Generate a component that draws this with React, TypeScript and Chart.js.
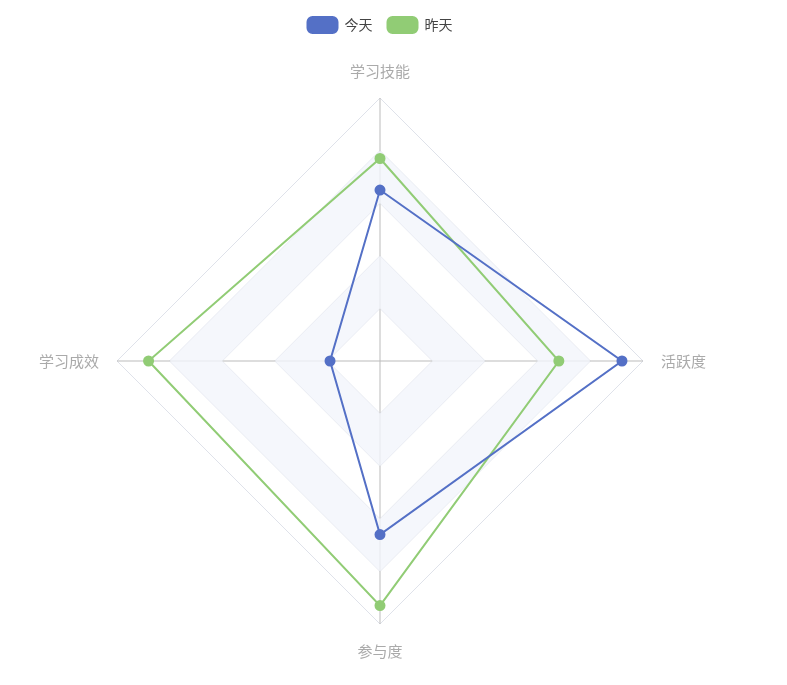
import React, { useEffect, useRef } from "react";
import { Chart, registerables } from "chart.js";

Chart.register(...registerables);

const labels = ["学习技能", "活跃度", "参与度", "学习成效"];
const todayValues = [65, 92, 66, 19];
const yesterdayValues = [77, 68, 93, 88];
const seriesNames = ["今天", "昨天"];
const ringValues = [0, 20, 40, 60, 80, 100];

const splitAreaPlugin = {
  id: "splitArea",
  beforeDatasetsDraw(chart: any) {
    const scale = chart.scales.r;
    if (!scale) return;
    const ctx = chart.ctx;
    const n = chart.data.labels.length;
    const poly = (v: number) => {
      for (let i = 0; i < n; i++) {
        const p = scale.getPointPositionForValue(i, v);
        if (i === 0) ctx.moveTo(p.x, p.y);
        else ctx.lineTo(p.x, p.y);
      }
      ctx.closePath();
    };
    ctx.save();
    for (let k = 1; k < ringValues.length - 1; k += 2) {
      ctx.beginPath();
      poly(ringValues[k + 1]);
      poly(ringValues[k]);
      ctx.fillStyle = "rgba(243,245,251,0.8)";
      ctx.fill("evenodd");
    }
    ctx.restore();
  },
};

const legendSpacing = {
  id: "legendSpacing",
  beforeInit(chart: any) {
    const orig = chart.legend.fit;
    chart.legend.fit = function () {
      orig.bind(chart.legend)();
      this.height += 19;
    };
  },
};

export default function App() {
  const ref = useRef<HTMLCanvasElement | null>(null);
  useEffect(() => {
    if (!ref.current) return;
    const chart = new Chart(ref.current, {
      type: "radar",
      data: {
        labels,
        datasets: [
          {
            label: seriesNames[0],
            data: todayValues,
            borderColor: "#5470c6",
            backgroundColor: "#5470c6",
            pointBackgroundColor: "#5470c6",
            pointBorderColor: "#5470c6",
            pointRadius: 4.5,
            borderWidth: 2,
            fill: false,
          },
          {
            label: seriesNames[1],
            data: yesterdayValues,
            borderColor: "#91cc75",
            backgroundColor: "#91cc75",
            pointBackgroundColor: "#91cc75",
            pointBorderColor: "#91cc75",
            pointRadius: 4.5,
            borderWidth: 2,
            fill: false,
          },
        ],
      },
      options: {
        animation: false,
        responsive: false,
        layout: { padding: { left: 0, right: 27, top: 2, bottom: 25 } },
        plugins: {
          legend: {
            position: "top",
            labels: {
              boxWidth: 30,
              boxHeight: 16,
              useBorderRadius: true,
              borderRadius: 5,
              color: "#444",
              font: { size: 14, family: "'Noto Sans CJK SC', sans-serif" },
              padding: 15,
            },
          },
          tooltip: { enabled: false },
        },
        scales: {
          r: {
            min: 0,
            max: 100,
            ticks: { display: false, stepSize: 20 },
            grid: { color: "#dfe2ea", lineWidth: 1 },
            angleLines: { color: "#bbbbbb", lineWidth: 1 },
            pointLabels: {
              color: "#aaaaaa",
              font: { size: 15, family: "'Noto Sans CJK SC', sans-serif" },
              padding: 18,
            },
          },
        },
      },
      plugins: [splitAreaPlugin, legendSpacing],
    });
    return () => chart.destroy();
  }, []);
  return (
    <div style={{ position: "absolute", left: 0, top: 0, width: 787, height: 685, background: "#fff" }}>
      <canvas ref={ref} width={787} height={685} />
    </div>
  );
}
